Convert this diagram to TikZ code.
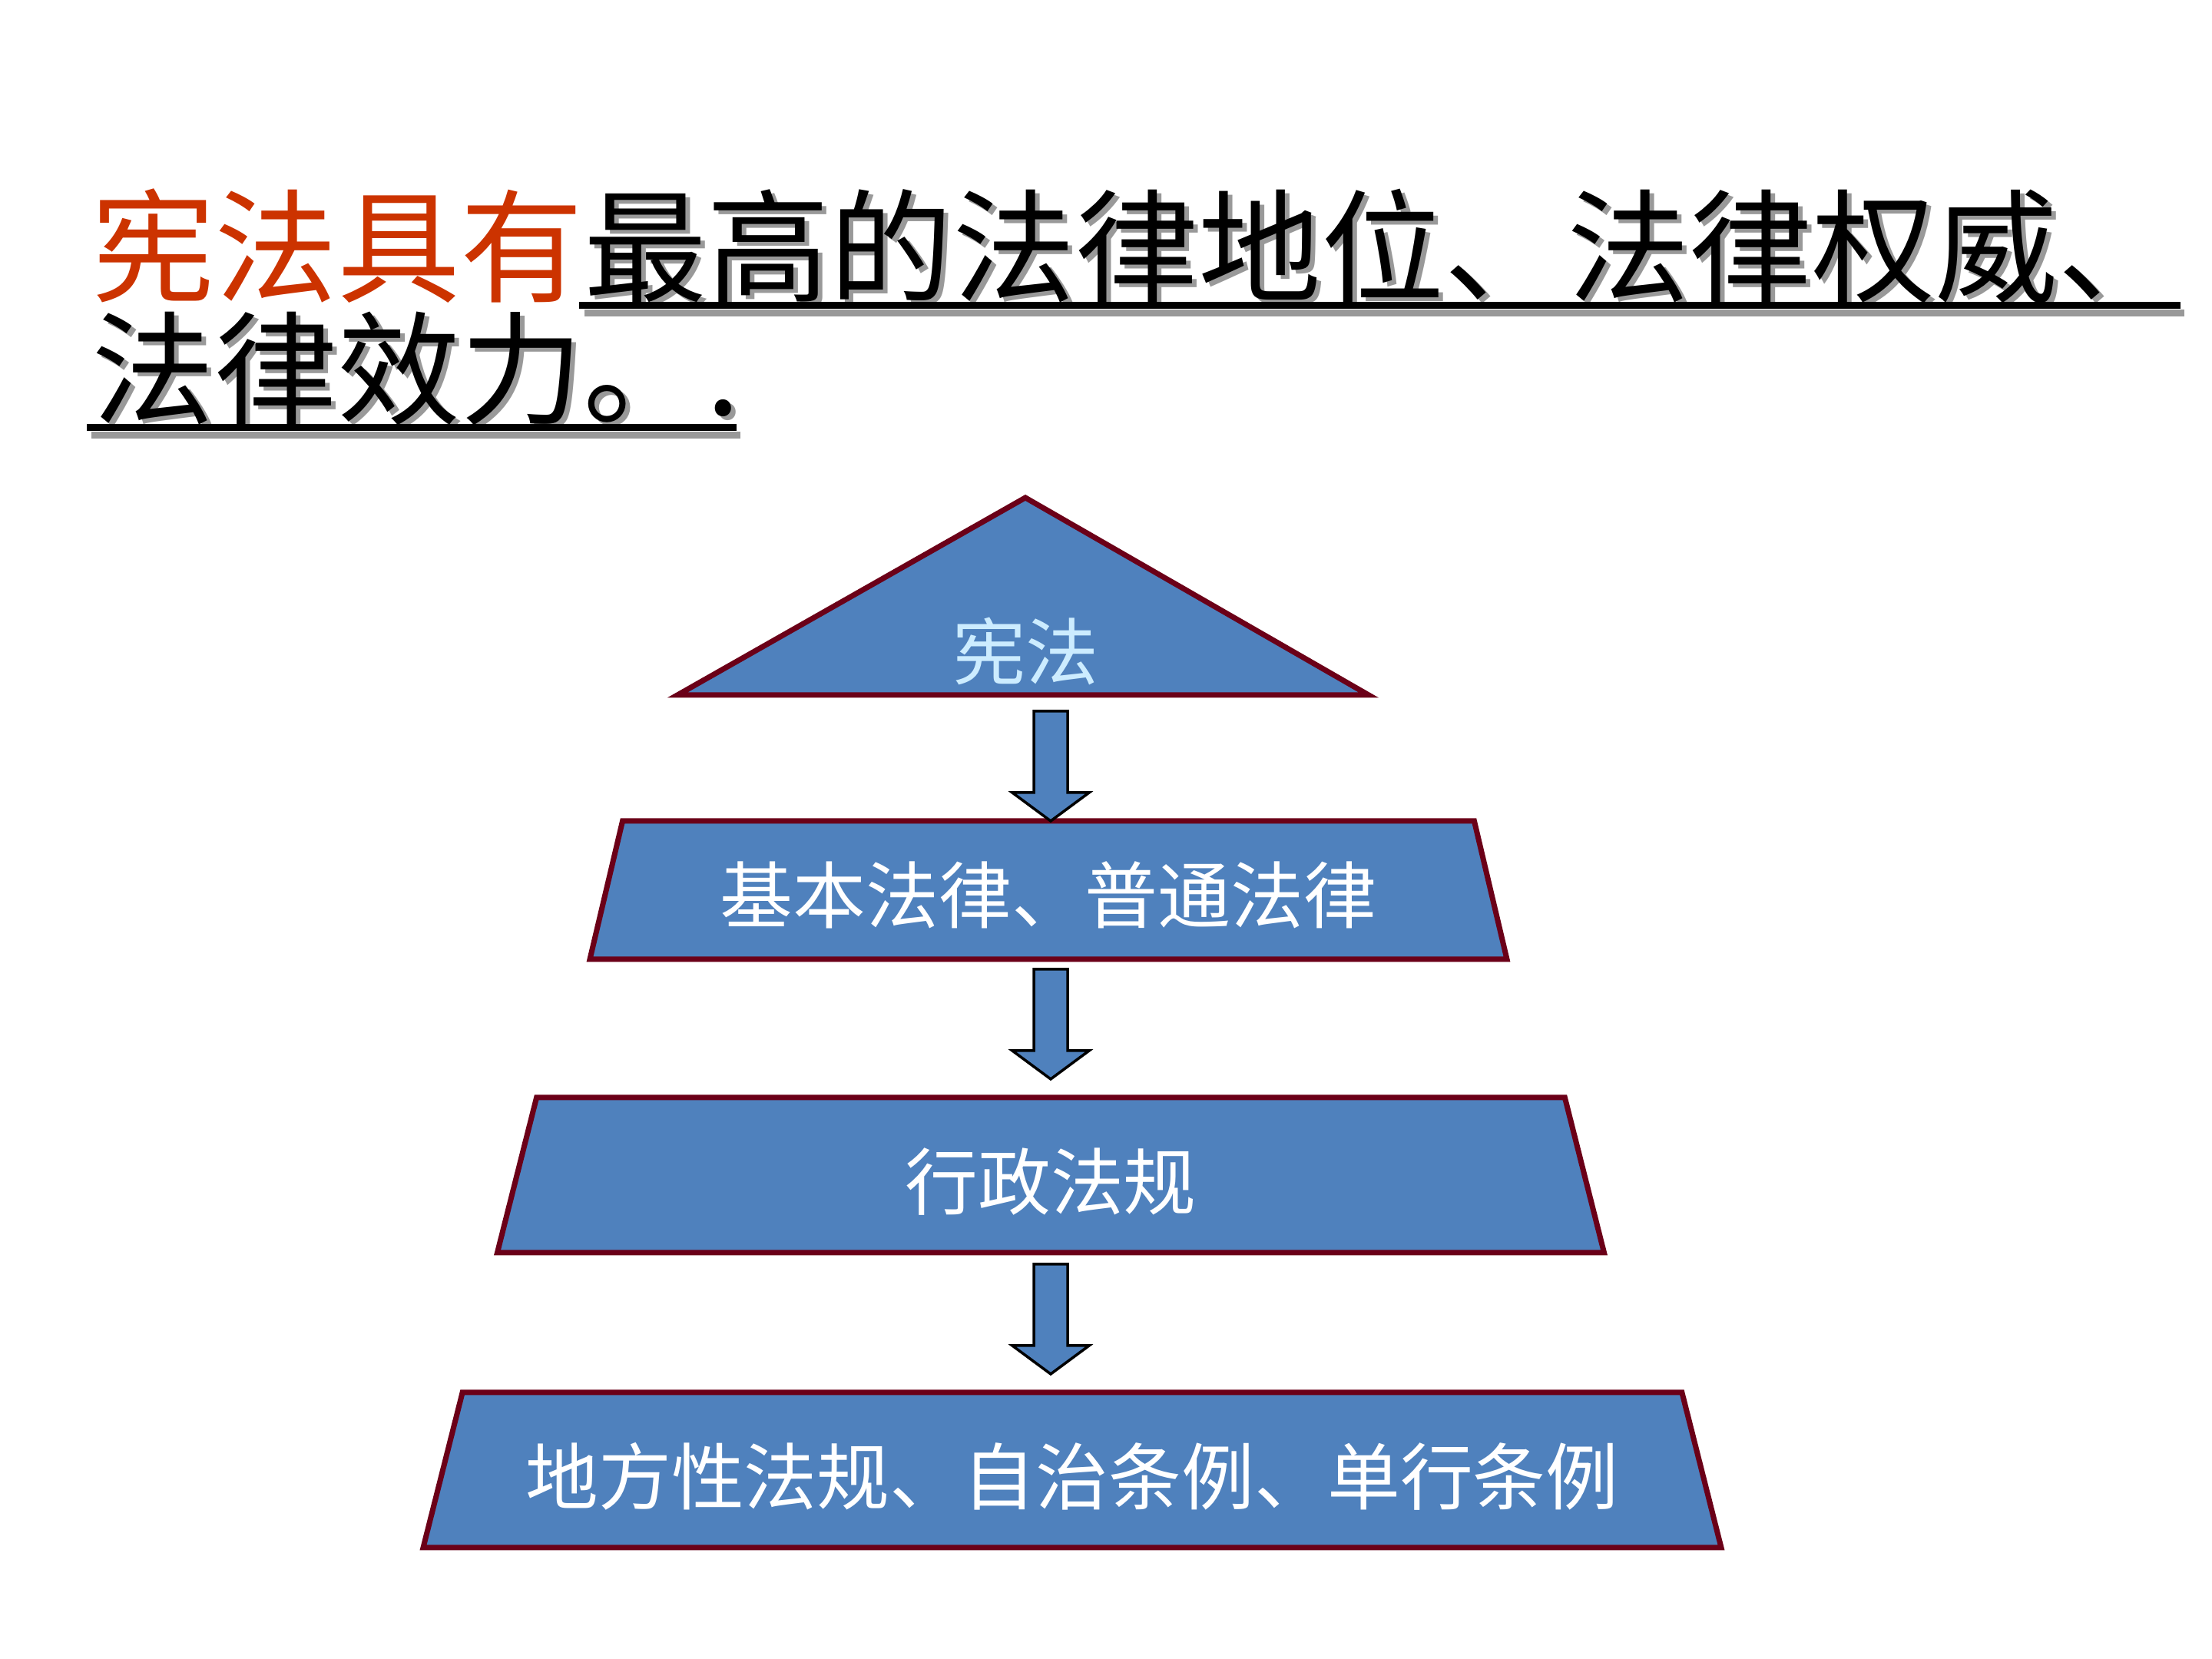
\documentclass[tikz,border=0pt]{standalone}
\usepackage{fontspec}
\usepackage{xcolor}
\usepackage{tikz}
\usetikzlibrary{shapes.geometric, calc}
\newfontfamily\cjk{Noto Sans CJK SC}
\definecolor{lawred}{HTML}{CC3300}
\definecolor{lawblue}{HTML}{4F81BD}
\definecolor{lawborder}{HTML}{6B0018}
\definecolor{lawlight}{HTML}{CCECFF}
\definecolor{lawshadow}{HTML}{999999}

\tikzset{
    pics/downarrow/.style={code={
        \draw[arrowbody] (-0.22,0) -- (0.22,0) -- (0.22,-1.06) -- (0.50,-1.06)
            -- (0,-1.43) -- (-0.50,-1.06) -- (-0.22,-1.06) -- cycle;
    }}
}

\begin{document}
\begin{tikzpicture}[
    tier/.style={trapezium, trapezium stretches body=true, inner ysep=0pt, draw=lawborder, line width=2pt, fill=lawblue, text=white, font=\cjk\fontsize{27}{30}\selectfont},
    peak/.style={draw=lawborder, line width=2pt, fill=lawblue},
    arrowbody/.style={draw=black, line width=1pt, fill=lawblue},
    headline/.style={anchor=base west, inner sep=0pt, font=\cjk\fontsize{45.5}{50}\selectfont},
    uline/.style={line width=0.09cm}
]
    \fill[white] (0,0) rectangle (28.8,21.6);
    \useasboundingbox (0,0) rectangle (28.8,21.6);

    % Title
    \node[headline, text=lawred] (head1) at (1.19,17.78) {宪法具有};
    \node[headline, text=lawshadow] at ($(head1.base east)+(0.06,-0.05)$) {最高的法律地位、法律权威、};
    \node[headline] (head2) at (head1.base east) {最高的法律地位、法律权威、};
    \node[headline, text=lawshadow] at (1.25,16.14) {法律效力。.};
    \node[headline] (head3) at (1.19,16.19) {法律效力。.};

    % Underlines
    \draw[uline, lawshadow] ($(head2.base west)+(0.01,-0.26)$) -- ($(head2.base east)+(0.04,-0.26)$);
    \draw[uline] ($(head2.base west)+(-0.06,-0.16)$) -- ($(head2.base east)+(-0.01,-0.16)$);
    \draw[uline, lawshadow] ($(head3.base west)+(0.0,-0.26)$) -- ($(head3.base east)+(0.0,-0.26)$);
    \draw[uline] ($(head3.base west)+(-0.06,-0.16)$) -- ($(head3.base east)+(-0.05,-0.16)$);

    % Pyramid
    \draw[peak] (8.82,12.55) -- (13.35,15.12) -- (17.82,12.55) -- cycle;
    \node[text=lawlight, font=\cjk\fontsize{27}{30}\selectfont] (con) at (13.35,13.12) {宪法};

    \node[tier, trapezium angle=76.7, minimum width=11.94cm, text height=1.33cm, text depth=0.47cm] (law) at (13.65,10.01) {基本法律、普通法律};
    \node[tier, trapezium angle=75.8, minimum width=14.41cm, text height=1.46cm, text depth=0.56cm] (reg) at (13.68,6.30) {行政法规};
    \node[tier, trapezium angle=75.8, minimum width=16.90cm, text height=1.46cm, text depth=0.56cm] (local) at (13.96,2.46) {地方性法规、自治条例、单行条例};

    % Arrows
    \pic at (13.68,12.34) {downarrow};
    \pic at (13.68,8.98) {downarrow};
    \pic at (13.68,5.14) {downarrow};
\end{tikzpicture}
\end{document}
